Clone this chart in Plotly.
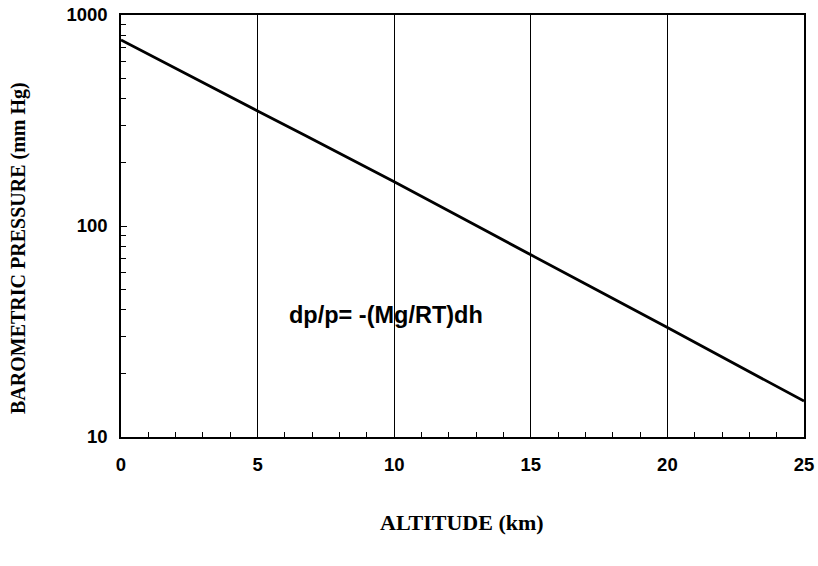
import plotly.graph_objects as go

altitude_km = [0, 5, 10, 15, 20, 25]
pressure_mmHg = [761, 351, 162, 73, 33, 14.8]
x_ticks = [0, 5, 10, 15, 20, 25]
y_ticks = [10, 100, 1000]
y_tick_labels = ["10", "100", "1000"]

W, H = 818, 566
L, T = 121, 15
R = W - 804
B = H - 437
plot_w = W - L - R
plot_h = H - T - B

def px_to_paper(px, py):
    return (px - L) / plot_w, (H - B - py) / plot_h

fig = go.Figure()
fig.add_trace(go.Scatter(x=altitude_km, y=pressure_mmHg, mode="lines",
                         line=dict(color="black", width=2.8, shape="spline"),
                         showlegend=False, hoverinfo="skip"))

tickfont = dict(family="Liberation Sans, Arial, sans-serif", size=18.5, color="black", weight="bold")
titlefont = dict(family="Liberation Serif, Times New Roman, serif", size=20, color="black", weight="bold")

ax, ay = px_to_paper(462, 522)
bx, by = px_to_paper(386, 315)
cx, cy = px_to_paper(18, 248)

fig.update_layout(
    width=W, height=H,
    margin=dict(l=L, r=R, t=T, b=B, autoexpand=False),
    paper_bgcolor="white", plot_bgcolor="white",
    xaxis=dict(range=[0, 25], tickvals=x_ticks, ticktext=[str(v) for v in x_ticks],
               showgrid=True, gridcolor="black", gridwidth=1,
               showline=True, linecolor="black", linewidth=1.5, mirror=True,
               ticks="inside", ticklen=6, tickcolor="black",
               minor=dict(dtick=1, ticks="inside", ticklen=5, tickcolor="black", showgrid=False),
               tickfont=tickfont, ticklabelstandoff=10, ticklabeloverflow="allow",
               zeroline=False, automargin=False),
    yaxis=dict(type="log", range=[1, 3], tickvals=y_ticks, ticktext=y_tick_labels,
               showgrid=False,
               showline=True, linecolor="black", linewidth=1.5, mirror=True,
               ticks="inside", ticklen=6, tickcolor="black",
               minor=dict(dtick="D1", ticks="inside", ticklen=5, tickcolor="black", showgrid=False),
               tickfont=tickfont, ticklabelstandoff=8, ticklabeloverflow="allow",
               zeroline=False, automargin=False),
    annotations=[
        dict(text="ALTITUDE (km)", x=ax, y=ay, xref="paper", yref="paper",
             xanchor="center", yanchor="middle", showarrow=False,
             font=dict(titlefont, size=22)),
        dict(text="dp/p= -(Mg/RT)dh", x=bx, y=by, xref="paper", yref="paper",
             xanchor="center", yanchor="middle", showarrow=False,
             font=dict(family="Liberation Sans, Arial, sans-serif", size=23.5, color="black", weight="bold")),
        dict(text="BAROMETRIC PRESSURE (mm Hg)", textangle=-90, x=cx, y=cy,
             xref="paper", yref="paper", xanchor="center", yanchor="middle",
             showarrow=False, font=titlefont),
    ],
)

fig.write_html("out.html", config={"displayModeBar": False},
               post_script="document.body.style.margin='0px';document.body.style.overflow='hidden';")
